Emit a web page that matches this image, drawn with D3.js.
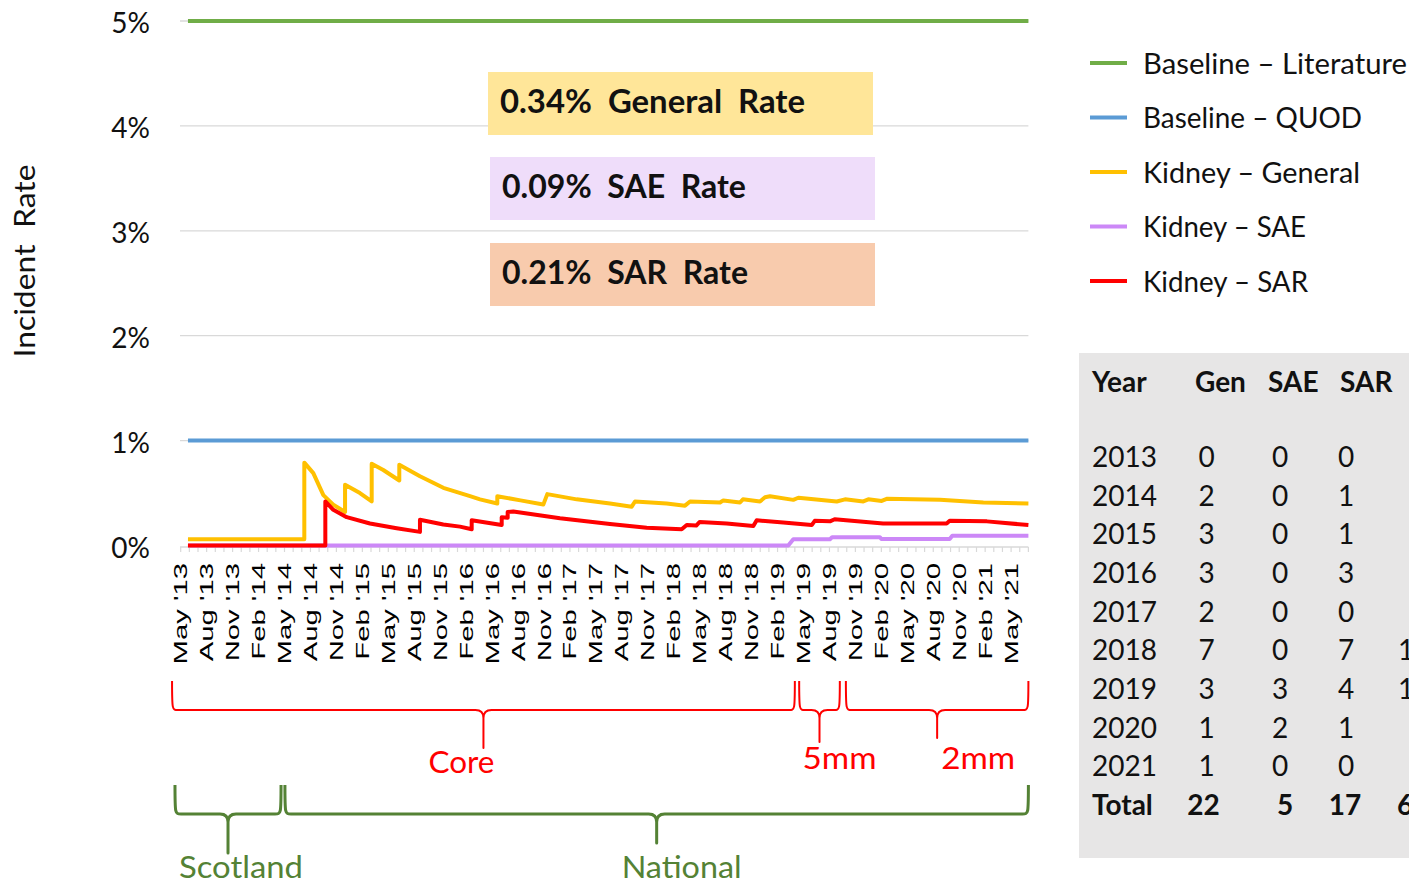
<!DOCTYPE html>
<html><head><meta charset="utf-8">
<script src="https://cdn.jsdelivr.net/npm/d3@7"></script>
<style>
html,body{margin:0;padding:0;background:#fff;overflow:hidden}
text{white-space:pre}
</style>
</head><body>
<svg id="c" width="1409" height="883"></svg>
<script>
// ---------------- DATA ----------------
const monthLabels = ["May '13","Aug '13","Nov '13","Feb '14","May '14","Aug '14","Nov '14","Feb '15","May '15","Aug '15","Nov '15","Feb '16","May '16","Aug '16","Nov '16","Feb '17","May '17","Aug '17","Nov '17","Feb '18","May '18","Aug '18","Nov '18","Feb '19","May '19","Aug '19","Nov '19","Feb '20","May '20","Aug '20","Nov '20","Feb '21","May '21"];
const yTickValues = [0, 1, 2, 3, 4, 5];
const yTickLabels = ["0%", "1%", "2%", "3%", "4%", "5%"];
const seriesNames = ["Baseline – Literature", "Baseline – QUOD", "Kidney – General", "Kidney – SAE", "Kidney – SAR"];
// [months since May 2013, incident rate %]
const baselineLiterature = [[0.84, 5], [98, 5]];
const baselineQuod = [[0.84, 1], [98, 1]];
const kidneyGeneral = [[0.84,0.06],[14.29,0.06],[14.29,0.79],[15.33,0.69],[16.49,0.48],[17.64,0.39],[19.0,0.32],[19.0,0.58],[20.72,0.5],[22.08,0.42],[22.08,0.78],[23.42,0.72],[25.27,0.62],[25.27,0.77],[27.66,0.66],[30.36,0.55],[33.45,0.47],[34.6,0.44],[36.6,0.4],[36.6,0.47],[39.28,0.43],[41.92,0.39],[42.38,0.49],[45.78,0.44],[49.63,0.4],[52.14,0.37],[52.52,0.42],[56.18,0.4],[58.3,0.38],[58.88,0.42],[62.35,0.41],[62.73,0.43],[64.66,0.41],[65.0,0.44],[66.97,0.42],[67.55,0.46],[68.13,0.47],[70.82,0.435],[71.4,0.455],[75.84,0.42],[76.8,0.44],[78.91,0.42],[79.49,0.44],[81.04,0.425],[81.62,0.445],[87.78,0.435],[92.79,0.41],[98,0.4]];
const kidneySAE = [[0.84,0],[70.24,0],[70.82,0.06],[75.06,0.06],[75.3,0.078],[80.84,0.078],[81.0,0.062],[88.9,0.062],[89.2,0.093],[98,0.093]];
const kidneySAR = [[0.84,0],[16.72,0],[16.72,0.42],[17.64,0.34],[19.19,0.27],[21.88,0.21],[24.97,0.165],[27.66,0.13],[27.66,0.245],[30.36,0.2],[32.29,0.18],[33.64,0.155],[33.64,0.24],[37.11,0.195],[37.11,0.27],[37.8,0.265],[37.8,0.32],[38.45,0.325],[43.85,0.26],[49.63,0.205],[53.87,0.17],[57.92,0.155],[58.5,0.195],[59.6,0.19],[60.0,0.225],[63.12,0.21],[66.2,0.185],[66.59,0.24],[69.66,0.22],[72.95,0.195],[73.3,0.235],[75.06,0.23],[75.6,0.25],[81.2,0.21],[88.55,0.21],[88.9,0.235],[93.2,0.23],[98,0.195]];
const rateLabels = ["0.34%  General  Rate", "0.09%  SAE  Rate", "0.21%  SAR  Rate"];
const tableHeader = ["Year", "Gen", "SAE", "SAR"];
const tableYears = ["2013","2014","2015","2016","2017","2018","2019","2020","2021"];
const tableGen = [0, 2, 3, 3, 2, 7, 3, 1, 1];
const tableSAE = [0, 0, 0, 0, 0, 0, 3, 2, 0];
const tableSAR = [0, 1, 1, 3, 0, 7, 4, 1, 0];
const tableExtra = ["", "", "", "", "", "1", "1", "", ""];
const tableTotals = ["Total", "22", "5", "17", "6"];
const phaseBraces = [{label: "Core", from: -1.0, to: 71.0}, {label: "5mm", from: 71.5, to: 76.2}, {label: "2mm", from: 76.9, to: 98}];
const regionBraces = [{label: "Scotland", from: -0.66, to: 11.6}, {label: "National", from: 12.05, to: 98}];

// ---------------- LAYOUT / STYLE ----------------
const FONT = "Lato, 'Open Sans', sans-serif";
const colors = ["#70AD47", "#5B9BD5", "#FFC000", "#CC88F7", "#FF0000"];
const svg = d3.select("#c");
svg.append("rect").attr("width", 1409).attr("height", 883).attr("fill", "#fff");

const x = d3.scaleLinear().domain([0, 98]).range([180.7, 1028.4]);
const y = d3.scaleLinear().domain([0, 5]).range([545.5, 21]);

// gridlines
svg.append("g").selectAll("line").data(yTickValues.filter(v => v > 0)).join("line")
  .attr("x1", 180).attr("x2", x(98)).attr("y1", d => y(d)).attr("y2", d => y(d))
  .attr("stroke", "#D9D9D9").attr("stroke-width", 1.3);

// y tick labels
svg.append("g").selectAll("text").data(yTickValues).join("text")
  .attr("x", 150).attr("y", d => y(d) + 12).attr("text-anchor", "end")
  .attr("font-family", FONT).attr("font-size", 28).attr("fill", "#111")
  .text((d, i) => yTickLabels[i]);

// y axis title
svg.append("text").attr("transform", "translate(35,261) rotate(-90)")
  .attr("text-anchor", "middle").attr("font-family", FONT).attr("font-size", 28).attr("fill", "#111")
  .attr("textLength", 193).attr("lengthAdjust", "spacingAndGlyphs")
  .text("Incident  Rate");

// x axis line + monthly ticks
const axisY = y(0) + 1.5;
svg.append("line").attr("x1", 180).attr("x2", x(98)).attr("y1", axisY).attr("y2", axisY)
  .attr("stroke", "#D9D9D9").attr("stroke-width", 1.5);
svg.append("g").selectAll("line").data(d3.range(0, 99)).join("line")
  .attr("x1", d => x(d)).attr("x2", d => x(d)).attr("y1", axisY).attr("y2", axisY + 5)
  .attr("stroke", "#D9D9D9").attr("stroke-width", 1.2);

// x tick labels (quarterly)
svg.append("g").selectAll("text").data(monthLabels).join("text")
  .attr("transform", (d, i) => `translate(${x(i * 3)},563) rotate(-90) scale(1.54,1)`)
  .attr("text-anchor", "end").attr("dominant-baseline", "central")
  .attr("font-family", "'Liberation Sans', Arial, sans-serif").attr("font-size", 19).attr("fill", "#000")
  .text(d => d);

// series lines
const line = d3.line().x(d => x(d[0])).y(d => y(d[1]));
const allSeries = [baselineLiterature, baselineQuod, kidneyGeneral, kidneySAE, kidneySAR];
svg.append("g").selectAll("path").data(allSeries).join("path")
  .attr("d", line).attr("fill", "none")
  .attr("stroke", (d, i) => colors[i]).attr("stroke-width", 4)
  .attr("stroke-linejoin", "round").attr("stroke-linecap", "butt");

// rate boxes
const boxLayout = [
  {x: 488, y: 72, fill: "#FFE699", tx: 500, len: 305},
  {x: 490, y: 157, fill: "#EFDDFA", tx: 502, len: 244},
  {x: 490, y: 243, fill: "#F8CBAD", tx: 502, len: 246}
];
rateLabels.forEach((t, i) => {
  const b = boxLayout[i];
  svg.append("rect").attr("x", b.x).attr("y", b.y).attr("width", 385).attr("height", 63).attr("fill", b.fill);
  svg.append("text").attr("x", b.tx).attr("y", b.y + 29 + 12)
    .attr("font-family", FONT).attr("font-size", 33).attr("font-weight", "bold").attr("fill", "#111")
    .attr("textLength", b.len).attr("lengthAdjust", "spacingAndGlyphs")
    .text(t);
});

// legend
const legLens = [264, 219, 217, 163, 165];
const leg = svg.append("g").selectAll("g").data(seriesNames).join("g")
  .attr("transform", (d, i) => `translate(0,${63 + i * 54.5})`);
leg.append("line").attr("x1", 1090).attr("x2", 1127).attr("y1", 0).attr("y2", 0)
  .attr("stroke", (d, i) => colors[i]).attr("stroke-width", 4);
leg.append("text").attr("x", 1143).attr("y", 10.5)
  .attr("font-family", FONT).attr("font-size", 29).attr("fill", "#111")
  .attr("textLength", (d, i) => legLens[i]).attr("lengthAdjust", "spacingAndGlyphs")
  .text(d => d);

// table
svg.append("rect").attr("x", 1079).attr("y", 353).attr("width", 330).attr("height", 505).attr("fill", "#E7E6E6");
const tg = svg.append("g").attr("font-family", FONT).attr("font-size", 28).attr("fill", "#111");
const hdrX = [1092, 1195, 1268, 1340];
tableHeader.forEach((h, i) => {
  tg.append("text").attr("x", hdrX[i]).attr("y", 392).attr("font-weight", "bold").text(h);
});
const rowY = i => 457 + i * 38.65 + 10;
const colC = [1206.5, 1280, 1346];
tableYears.forEach((yr, i) => {
  tg.append("text").attr("x", 1092).attr("y", rowY(i)).text(yr);
  [tableGen, tableSAE, tableSAR].forEach((col, j) => {
    tg.append("text").attr("x", colC[j]).attr("y", rowY(i)).attr("text-anchor", "middle").text(col[i]);
  });
  if (tableExtra[i]) tg.append("text").attr("x", 1398).attr("y", rowY(i)).text(tableExtra[i]);
});
const totX = [1092, 1203.5, 1285, 1345, 1397];
const totAnchor = ["start", "middle", "middle", "middle", "start"];
tableTotals.forEach((t, i) => {
  tg.append("text").attr("x", totX[i]).attr("y", rowY(9)).attr("font-weight", "bold")
    .attr("text-anchor", totAnchor[i]).text(t);
});

// braces
function bracePath(x1, x2, top, bar, tip) {
  const xc = (x1 + x2) / 2, r = 6, rc = 8;
  return `M${x1},${top} C${x1},${bar} ${x1},${bar} ${x1 + r},${bar} L${xc - rc},${bar} Q${xc},${bar} ${xc},${bar + rc} L${xc},${tip} L${xc},${bar + rc} Q${xc},${bar} ${xc + rc},${bar} L${x2 - r},${bar} C${x2},${bar} ${x2},${bar} ${x2},${top}`;
}
const phaseLayout = {top: 681, bar: 710, tips: [748, 742, 738], labelDx: [-22, 20, 41], labelY: [762, 758, 758], lens: [66, 74, 74], color: "#FF0000", width: 2};
const regionLayout = {top: 785, bar: 814, tips: [853, 843], labelDx: [13, 25], labelY: [867, 867], lens: [124, 120], color: "#548235", width: 3};
function drawBraces(data, L) {
  data.forEach((b, i) => {
    const x1 = x(b.from), x2 = x(b.to), xc = (x1 + x2) / 2;
    svg.append("path").attr("d", bracePath(x1, x2, L.top, L.bar, L.tips[i]))
      .attr("fill", "none").attr("stroke", L.color).attr("stroke-width", L.width).attr("stroke-linejoin", "round");
    svg.append("text").attr("x", xc + L.labelDx[i]).attr("y", L.labelY[i] + 11)
      .attr("text-anchor", "middle").attr("font-family", FONT).attr("font-size", 31).attr("fill", L.color)
      .attr("textLength", L.lens[i]).attr("lengthAdjust", "spacingAndGlyphs")
      .text(b.label);
  });
}
drawBraces(phaseBraces, phaseLayout);
drawBraces(regionBraces, regionLayout);
</script>
</body></html>
